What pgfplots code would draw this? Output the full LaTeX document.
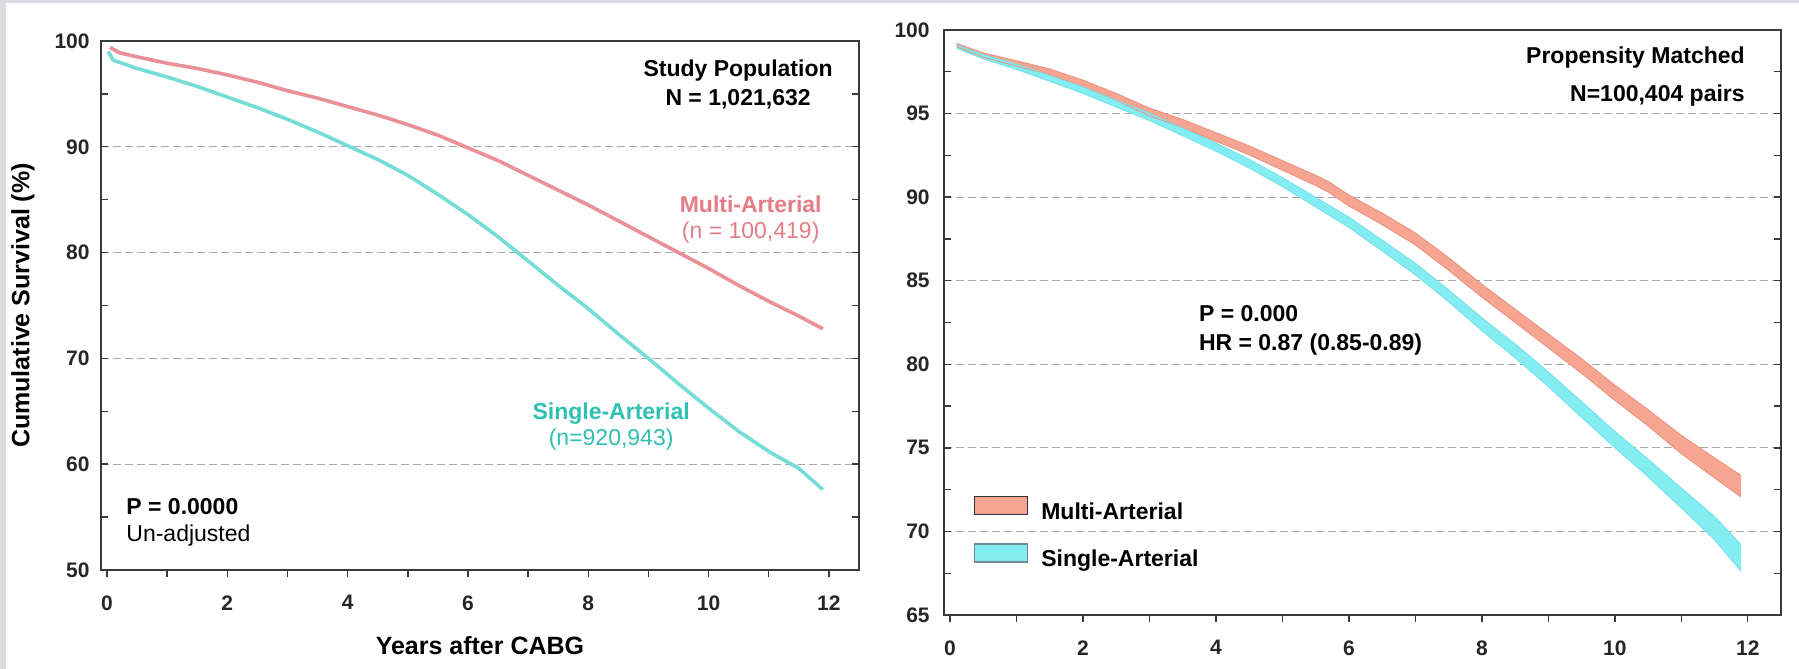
\documentclass[border=0pt]{standalone}
\usepackage{fontspec}
\setmainfont{Liberation Sans}
\usepackage{pgfplots}
\pgfplotsset{compat=1.18}
\usepackage{pgfplotstable}
\usepgfplotslibrary{fillbetween}

\definecolor{bgray}{HTML}{D9DDE2}
\definecolor{axisdark}{HTML}{3A3A3A}
\definecolor{gridgray}{HTML}{A8A8A8}
\definecolor{multiline}{HTML}{E99098}
\definecolor{singleline}{HTML}{74DDD6}
\definecolor{multitext}{HTML}{E47C88}
\definecolor{singletext}{HTML}{2EC0B0}
\definecolor{multifill}{HTML}{F6A592}
\definecolor{multiedge}{HTML}{EC907E}
\definecolor{singlefill}{HTML}{84EDF1}
\definecolor{singleedge}{HTML}{70E2EA}
\definecolor{legedge}{HTML}{6E8A96}

% left panel: unadjusted curves
\pgfplotstableread{
x y
0.05 99.4
0.2 98.9
0.5 98.5
1 97.9
1.5 97.4
2 96.8
2.5 96.1
3 95.3
3.5 94.6
4 93.8
4.5 93.0
5 92.1
5.5 91.1
6 89.9
6.5 88.7
7 87.3
7.5 85.9
8 84.5
8.5 83.0
9 81.5
9.5 80.0
10 78.5
10.5 76.9
11 75.4
11.5 74.0
11.9 72.8
}\leftmulti

\pgfplotstableread{
x y
0.02 99.0
0.1 98.2
0.5 97.4
1 96.6
1.5 95.7
2 94.7
2.5 93.7
3 92.6
3.5 91.4
4 90.1
4.5 88.8
5 87.3
5.5 85.5
6 83.6
6.5 81.5
7 79.2
7.5 76.9
8 74.7
8.5 72.3
9 70.0
9.5 67.6
10 65.3
10.5 63.1
11 61.2
11.5 59.6
11.9 57.6
}\leftsingle

% right panel: propensity matched, confidence bands
\pgfplotstableread{
x lo hi
0.1 99.00 99.20
0.5 98.37 98.63
1 97.84 98.16
1.5 97.33 97.67
2 96.60 97.00
2.5 95.79 96.21
3 94.87 95.33
3.5 94.15 94.65
4 93.34 93.86
4.5 92.53 93.07
5 91.61 92.19
5.5 90.69 91.31
5.7 90.28 90.92
6 89.47 90.13
6.5 88.35 89.05
7 87.14 87.86
7.5 85.62 86.38
8 84.01 84.79
8.5 82.50 83.30
9 80.98 81.82
9.5 79.46 80.34
10 77.84 78.76
10.5 76.31 77.29
11 74.65 75.75
11.5 73.20 74.40
11.9 72.05 73.35
}\rightmulti

\pgfplotstableread{
x lo hi
0.1 98.90 99.10
0.5 98.27 98.53
1 97.64 97.96
1.5 96.93 97.27
2 96.20 96.60
2.5 95.39 95.81
3 94.58 95.02
3.5 93.67 94.13
4 92.75 93.25
4.5 91.74 92.26
5 90.63 91.17
5.5 89.41 89.99
6 88.19 88.81
6.5 86.77 87.43
7 85.35 86.05
7.5 83.74 84.46
8 82.01 82.79
8.5 80.38 81.22
9 78.66 79.54
9.5 76.83 77.77
10 75.01 75.99
10.5 73.27 74.33
11 71.40 72.60
11.5 69.50 70.90
11.9 67.60 69.20
}\rightsingle

\pgfplotsset{
  survstyle/.style={
    scale only axis,
    set layers,
    anchor=south west,
    clip=false,
    xmin=-0.1, xmax=12.5,
    xtick={0,2,...,12},
    minor x tick num=1,
    minor y tick num=1,
    tick align=inside,
    xtick pos=left,
    major tick length=3.5pt,
    minor tick length=3.5pt,
    major x tick style={yshift=-3.5pt},
    minor x tick style={yshift=-3.5pt},
    tick style={draw=axisdark, line width=0.7pt},
    axis line style={draw=axisdark, line width=0.9pt},
    ymajorgrids,
    major grid style={draw=gridgray, line width=0.5pt, dash pattern=on 4pt off 2pt},
    tick label style={font=\fontsize{10.5}{12}\selectfont\bfseries, text=black!85},
    /pgf/number format/assume math mode=true,
    xticklabel style={inner sep=0pt, yshift=-12.5pt},
  },
}
\tikzset{annot/.style={font=\fontsize{11.5}{13}\selectfont\bfseries}}

\begin{document}
\begin{tikzpicture}
\path (0,0) rectangle (899.5pt,334.5pt);

% ---------------- left: study population
\begin{axis}[
    survstyle,
    at={(50.5pt,49.5pt)},
    width=379pt, height=264.5pt,
    ymin=50, ymax=100,
    ytick={50,60,...,100},
    yticklabel style={inner sep=0pt, xshift=-5.5pt},
    xlabel={Years after CABG},
    ylabel={Cumulative Survival (\%)},
    xlabel style={font=\fontsize{12.5}{14}\selectfont\bfseries,
      at={(axis description cs:0.5,-0.142)}, anchor=center},
    ylabel style={font=\fontsize{12.5}{14}\selectfont\bfseries,
      at={(axis description cs:-0.103,0.5)}, anchor=center},
]
\addplot[multiline, line width=1.8pt] table[x=x,y=y] {\leftmulti};
\addplot[singleline, line width=1.8pt] table[x=x,y=y] {\leftsingle};
\draw[axisdark, line width=0.9pt] (rel axis cs:0,1) -- (rel axis cs:1,1);

\node[annot, anchor=base] at (axis cs:10.49,96.60) {Study Population};
\node[annot, anchor=base] at (axis cs:10.49,93.95) {N = 1,021,632};
\node[annot, anchor=base, text=multitext] at (axis cs:10.70,83.78) {Multi-Arterial};
\node[font=\fontsize{11.5}{13}\selectfont, anchor=base, text=multitext] at (axis cs:10.70,81.32) {(n = 100,419)};
\node[annot, anchor=base, text=singletext] at (axis cs:8.38,64.27) {Single-Arterial};
\node[font=\fontsize{11.5}{13}\selectfont, anchor=base, text=singletext] at (axis cs:8.38,61.72) {(n=920,943)};
\node[annot, anchor=base west, inner sep=0pt] at (axis cs:0.316,55.20) {P = 0.0000};
\node[font=\fontsize{11.5}{13}\selectfont, anchor=base west, inner sep=0pt] at (axis cs:0.316,52.65) {Un-adjusted};
\end{axis}

% ---------------- right: propensity matched
\begin{axis}[
    survstyle,
    at={(472pt,27pt)},
    width=418.5pt, height=292.5pt,
    xmin=-0.09,
    ymin=65, ymax=100,
    ytick={65,70,...,100},
    yticklabel style={inner sep=0pt, xshift=-7pt},
    legend style={at={(axis description cs:0.035,0.2044)}, anchor=north west,
      draw=none, fill=none, inner sep=0pt, row sep=9.5pt, column sep=6.5pt,
      nodes={inner sep=0pt, text height=8.5pt, text depth=2.5pt},
      font=\fontsize{11.5}{13}\selectfont\bfseries},
    legend cell align=left,
]
\addlegendimage{legend image code/.code={
  \draw[fill=multifill, draw=black!80, line width=0.8pt] (0pt,-0.8pt) rectangle (26.5pt,8.2pt);}}
\addlegendentry{Multi-Arterial}
\addlegendimage{legend image code/.code={
  \draw[fill=singlefill, draw=legedge, line width=0.8pt] (0pt,-0.8pt) rectangle (26.5pt,8.2pt);}}
\addlegendentry{Single-Arterial}

\addplot[multiedge, line width=0.4pt, name path=mhi] table[x=x,y=hi] {\rightmulti};
\addplot[multiedge, line width=0.4pt, name path=mlo] table[x=x,y=lo] {\rightmulti};
\addplot[fill=multifill, draw=none] fill between[of=mhi and mlo];
\addplot[singleedge, line width=0.4pt, name path=shi] table[x=x,y=hi] {\rightsingle};
\addplot[singleedge, line width=0.4pt, name path=slo] table[x=x,y=lo] {\rightsingle};
\addplot[fill=singlefill, draw=none] fill between[of=shi and slo];

\node[annot, anchor=base east, inner sep=0pt] at (axis cs:11.96,97.97) {Propensity Matched};
\node[annot, anchor=base east, inner sep=0pt] at (axis cs:11.96,95.72) {N=100,404 pairs};
\node[annot, anchor=base west, inner sep=0pt] at (axis cs:3.74,82.53) {P = 0.000};
\node[annot, anchor=base west, inner sep=0pt] at (axis cs:3.74,80.85) {HR = 0.87 (0.85-0.89)};
\end{axis}

\fill[bgray] (0,0) rectangle (3pt,334.5pt);
\fill[bgray] (0,333pt) rectangle (899.5pt,334.5pt);
\end{tikzpicture}
\end{document}
